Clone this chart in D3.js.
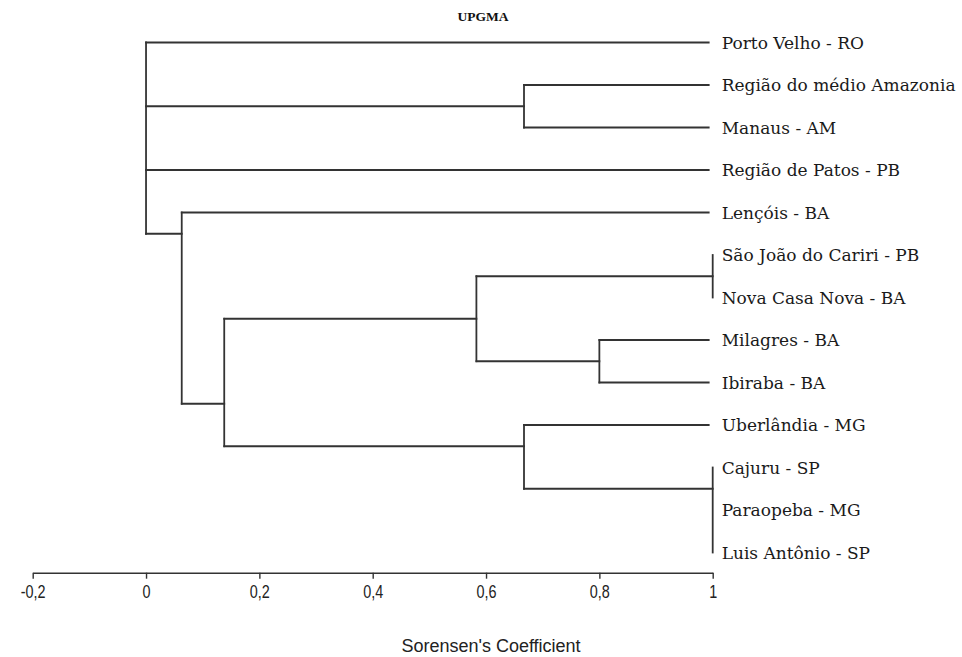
<!DOCTYPE html>
<html>
<head>
<meta charset="utf-8">
<script src="https://cdn.jsdelivr.net/npm/d3@7/dist/d3.min.js"></script>
<style>
  html, body { margin: 0; padding: 0; background: #fff; }
  svg { display: block; }
</style>
</head>
<body>
<svg id="chart" width="962" height="657"></svg>
<script>
// Sites, top to bottom in dendrogram order
const leafNames = [
  "Porto Velho - RO",
  "Região do médio Amazonia",
  "Manaus - AM",
  "Região de Patos - PB",
  "Lençóis - BA",
  "São João do Cariri - PB",
  "Nova Casa Nova - BA",
  "Milagres - BA",
  "Ibiraba - BA",
  "Uberlândia - MG",
  "Cajuru - SP",
  "Paraopeba - MG",
  "Luis Antônio - SP"
];

// UPGMA clusters: id, members (sites or other clusters), Sorensen similarity at the join
const clusterIds = ["amazonia", "cariri", "milagres", "caatinga", "cajuru", "cerrado", "nordeste", "lencois", "all"];
const clusterMembers = [
  ["Região do médio Amazonia", "Manaus - AM"],
  ["São João do Cariri - PB", "Nova Casa Nova - BA"],
  ["Milagres - BA", "Ibiraba - BA"],
  ["cariri", "milagres"],
  ["Cajuru - SP", "Paraopeba - MG", "Luis Antônio - SP"],
  ["Uberlândia - MG", "cajuru"],
  ["caatinga", "cerrado"],
  ["Lençóis - BA", "nordeste"],
  ["Porto Velho - RO", "amazonia", "Região de Patos - PB", "lencois"]
];
const clusterSimilarity = [0.667, 1, 0.8, 0.583, 1, 0.667, 0.138, 0.063, 0];

const axisTicks = [-0.2, 0, 0.2, 0.4, 0.6, 0.8, 1];
const titleText = "UPGMA";
const axisTitle = "Sorensen's Coefficient";

// ---- build the hierarchy ----
function buildNode(id) {
  const i = clusterIds.indexOf(id);
  if (i < 0) return { name: id, level: 1 };
  return { name: id, level: clusterSimilarity[i], children: clusterMembers[i].map(buildNode) };
}
const root = d3.hierarchy(buildNode("all"));

const svg = d3.select("#chart");
const lineColor = "#333";

const x = d3.scaleLinear().domain([-0.2, 1]).range([32.7, 712.7]);
const yLeaf = d3.scalePoint().domain(leafNames).range([42.5, 552.5]);

// each node sits on the boundary between its first and second member
root.eachAfter(n => {
  if (!n.children) { n.yPos = yLeaf(n.data.name); return; }
  const a = n.children[0].leaves();
  const b = n.children[1].leaves();
  n.yPos = (yLeaf(a[a.length - 1].data.name) + yLeaf(b[0].data.name)) / 2;
});

const segs = [];
root.each(n => {
  if (!n.children) return;
  const xn = x(n.data.level);
  const ys = n.children.map(c => c.yPos);
  segs.push({ x1: xn, y1: d3.min(ys), x2: xn, y2: d3.max(ys) });
  n.children.forEach(c => {
    const xe = c.children ? x(c.data.level) : x(1) - 4;
    if (xe - xn > 0.5) segs.push({ x1: xn, y1: c.yPos, x2: xe, y2: c.yPos });
  });
});

svg.append("g")
  .attr("stroke", lineColor)
  .attr("stroke-width", 1.8)
  .attr("stroke-linecap", "square")
  .selectAll("line")
  .data(segs)
  .join("line")
  .attr("x1", d => d.x1).attr("y1", d => d.y1)
  .attr("x2", d => d.x2).attr("y2", d => d.y2);

// site labels
svg.append("g")
  .selectAll("text")
  .data(root.leaves())
  .join("text")
  .attr("x", x(1) + 9)
  .attr("y", d => d.yPos + 6)
  .attr("font-family", "'DejaVu Serif', serif")
  .attr("font-size", 17)
  .attr("fill", "#1a1a1a")
  .text(d => d.data.name);

// title
svg.append("text")
  .attr("x", 483)
  .attr("y", 20.5)
  .attr("text-anchor", "middle")
  .attr("font-family", "'Liberation Serif', serif")
  .attr("font-size", 13.5)
  .attr("font-weight", 600)
  .attr("fill", "#111")
  .text(titleText);

// axis
const locale = d3.formatLocale({ decimal: ",", thousands: ".", grouping: [3], currency: ["", ""], minus: "-" });
const fmt = locale.format("~g");
const axis = d3.axisBottom(x).tickValues(axisTicks).tickFormat(fmt).tickSize(6).tickSizeOuter(0);
const gAxis = svg.append("g")
  .attr("transform", "translate(0,572.7)")
  .call(axis);
gAxis.select(".domain").attr("stroke", lineColor).attr("stroke-width", 1.6);
gAxis.selectAll(".tick line").attr("stroke", lineColor).attr("stroke-width", 1.4);
gAxis.selectAll(".tick text")
  .attr("y", null)
  .attr("transform", "translate(0,12.5) scale(0.8,1)")
  .attr("font-family", "'Liberation Sans', Arial, sans-serif")
  .attr("font-size", 18)
  .attr("fill", "#222");

svg.append("text")
  .attr("x", 491)
  .attr("y", 652)
  .attr("text-anchor", "middle")
  .attr("font-family", "'Liberation Sans', Arial, sans-serif")
  .attr("font-size", 18)
  .attr("fill", "#222")
  .text(axisTitle);
</script>
</body>
</html>
